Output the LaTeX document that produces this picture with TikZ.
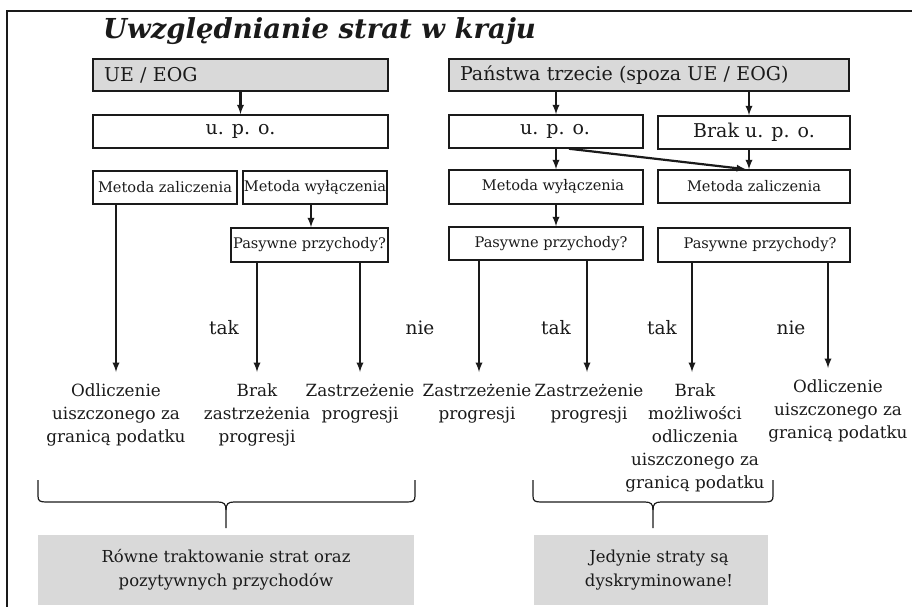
\documentclass[tikz,border=0pt]{standalone}
\usepackage{fontspec}
\setmainfont{DejaVu Serif}
\definecolor{boxgray}{HTML}{D9D9D9}
\definecolor{ink}{HTML}{1A1A1A}

\begin{document}
\begin{tikzpicture}[x=1pt,y=-1pt,
    every node/.style={text=ink},
    box/.style={draw=ink, line width=1.5pt, inner sep=0pt, font=\fontsize{14.6}{17}\selectfont},
    headbox/.style={box, fill=boxgray, align=left, inner xsep=11pt, font=\fontsize{19}{22}\selectfont},
    bigbox/.style={box, font=\fontsize{19}{22}\selectfont},
    result/.style={anchor=north, align=center, inner xsep=0pt, inner ysep=12pt, font=\fontsize{16.8}{23}\selectfont},
    answer/.style={anchor=base, font=\fontsize{18.5}{22}\selectfont},
    summary/.style={fill=boxgray, align=center, inner sep=0pt, font=\fontsize{16.5}{24}\selectfont},
    arr/.style={-latex, line width=2.2pt, draw=ink}]
  \useasboundingbox (0,0) rectangle (912,607);
  % slide frame
  \draw[ink, line width=2pt] (7,607) -- (7,11) -- (912,11);
  \node[anchor=base west, inner sep=0pt, font=\bfseries\itshape\fontsize{27.5}{30}\selectfont] (title) at (103,39) {Uwzględnianie strat w kraju};

  % EU / EEA column
  \node[headbox, minimum width=295pt, minimum height=32pt, text width=273pt] (ue) at (240.5,75) {UE / EOG};
  \node[bigbox, minimum width=295pt, minimum height=33pt] (upoL) at (240.5,131.5) {u. p. o.};
  \node[box, minimum width=144pt, minimum height=33pt] (metZL) at (165,187.5) {Metoda zaliczenia};
  \node[box, minimum width=144pt, minimum height=33pt] (metWL) at (315,187.5) {Metoda wyłączenia};
  \node[box, minimum width=157pt, minimum height=34pt] (pasL) at (309.5,245) {Pasywne przychody?};

  % third countries
  \node[headbox, minimum width=400pt, minimum height=32pt, text width=378pt] (pt) at (649,75) {Państwa trzecie (spoza UE / EOG)};
  \node[bigbox, minimum width=194pt, minimum height=33pt] (upoR) at (546,131.5) {\hspace*{18pt}u. p. o.};
  \node[bigbox, minimum width=192pt, minimum height=33pt] (brak) at (754,132.5) {Brak u. p. o.};
  \node[box, minimum width=194pt, minimum height=34pt] (metWR) at (546,187) {\hspace*{14pt}Metoda wyłączenia};
  \node[box, minimum width=192pt, minimum height=33pt] (metZR) at (754,186.5) {Metoda zaliczenia};
  \node[box, minimum width=194pt, minimum height=33pt] (pasR1) at (546,243.5) {\hspace*{10pt}Pasywne przychody?};
  \node[box, minimum width=192pt, minimum height=34pt] (pasR2) at (754,245) {\hspace*{12pt}Pasywne przychody?};

  % outcomes
  \node[result] (resA) at (116,372) {Odliczenie\\uiszczonego za\\granicą podatku};
  \node[result] (resB) at (257,372) {Brak\\zastrzeżenia\\progresji};
  \node[result] (resC) at (360,372) {Zastrzeżenie\\progresji};
  \node[result] (resD) at (477,372) {Zastrzeżenie\\progresji};
  \node[result] (resE) at (589,372) {Zastrzeżenie\\progresji};
  \node[result] (resF) at (695,372) {Brak\\możliwości\\odliczenia\\uiszczonego za\\granicą podatku};
  \node[result] (resG) at (838,368) {Odliczenie\\uiszczonego za\\granicą podatku};

  \node[answer] (takL) at (224,334) {tak};
  \node[answer] (nieL) at (420,334) {nie};
  \node[answer] (takR1) at (556,334) {tak};
  \node[answer] (takR2) at (662,334) {tak};
  \node[answer] (nieR) at (791,334) {nie};

  % arrows
  \draw[arr] (ue) -- (upoL);
  \draw[arr] (metWL.south -| 311,0) -- (pasL.north -| 311,0);
  \draw[arr] (pt.south -| 556,0) -- (upoR.north -| 556,0);
  \draw[arr] (pt.south -| 749,0) -- (brak.north -| 749,0);
  \draw[arr] (upoR.south -| 556,0) -- (metWR.north -| 556,0);
  \draw[arr] (brak.south -| 749,0) -- (metZR.north -| 749,0);
  \draw[arr] (upoR.south -| 569,0) -- (metZR.north -| 746,0);
  \draw[arr] (metWR.south -| 556,0) -- (pasR1.north -| 556,0);
  \draw[arr] (metZL.south -| resA) -- (resA.north);
  \draw[arr] (pasL.south -| resB) -- (resB.north);
  \draw[arr] (pasL.south -| resC) -- (resC.north);
  \draw[arr] (pasR1.south -| 479,0) -- (resD.north -| 479,0);
  \draw[arr] (pasR1.south -| 587,0) -- (resE.north -| 587,0);
  \draw[arr] (pasR2.south -| 692,0) -- (resF.north -| 692,0);
  \draw[arr] (pasR2.south -| 828,0) -- (resG.north -| 828,0);

  % braces
  \draw[ink, line width=1.2pt] (38,480) -- (38,496) .. controls (38,501) and (40,502) .. (46,502) -- (218,502) .. controls (224,502) and (226,504) .. (226,510) -- (226,528);
  \draw[ink, line width=1.2pt] (415,480) -- (415,496) .. controls (415,501) and (413,502) .. (407,502) -- (234,502) .. controls (228,502) and (226,504) .. (226,510);
  \draw[ink, line width=1.2pt] (533,480) -- (533,496) .. controls (533,501) and (535,502) .. (541,502) -- (645,502) .. controls (651,502) and (653,504) .. (653,510) -- (653,528);
  \draw[ink, line width=1.2pt] (773,480) -- (773,496) .. controls (773,501) and (771,502) .. (765,502) -- (661,502) .. controls (655,502) and (653,504) .. (653,510);

  % conclusions
  \node[summary, minimum width=376pt, minimum height=70pt] (sumL) at (226,570) {Równe traktowanie strat oraz\\pozytywnych przychodów};
  \node[summary, minimum width=234pt, minimum height=70pt] (sumR) at (651,570) {\hspace*{16pt}Jedynie straty są\\\hspace*{16pt}dyskryminowane!};
\end{tikzpicture}
\end{document}
